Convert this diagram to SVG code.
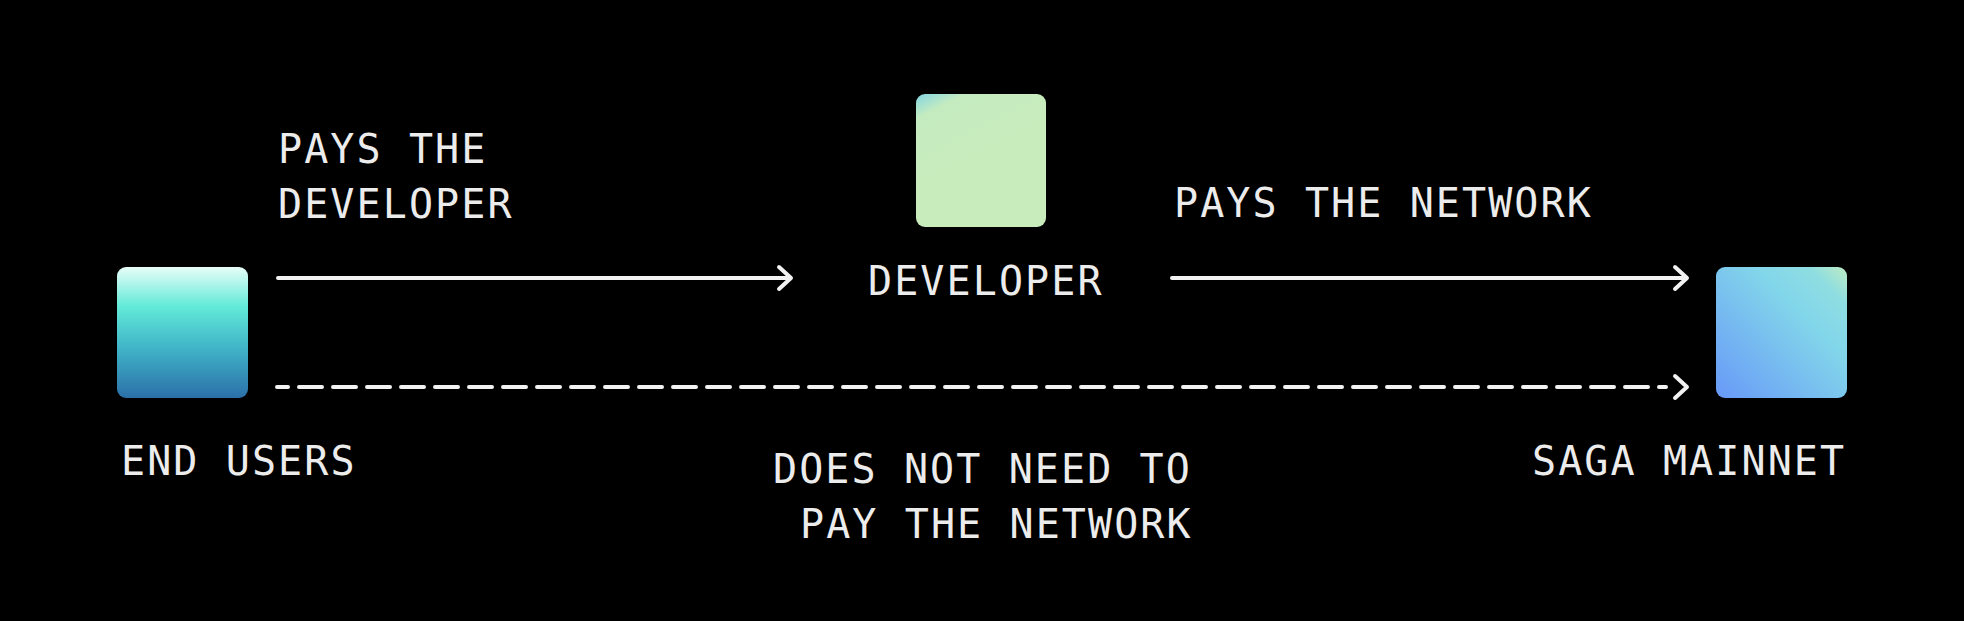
<svg xmlns="http://www.w3.org/2000/svg" width="1964" height="621" viewBox="0 0 1964 621">
  <style>
    .lbl { font-family: "DejaVu Sans Mono", "Liberation Mono", monospace; font-size: 40px; letter-spacing: 2.1px; fill: #ececec; }
    .conn { stroke: #f2f2f2; stroke-width: 4; fill: none; stroke-linecap: round; stroke-linejoin: round; }
  </style>
  <defs>
    <linearGradient id="gUsers" x1="0" y1="0" x2="0" y2="1">
      <stop offset="0" stop-color="#e8fdf8"/>
      <stop offset="0.3" stop-color="#62ead8"/>
      <stop offset="0.62" stop-color="#40b4c8"/>
      <stop offset="1" stop-color="#2b70a9"/>
    </linearGradient>
    <linearGradient id="gDev" x1="0" y1="0" x2="0.3" y2="0.6">
      <stop offset="0" stop-color="#82d6e4"/>
      <stop offset="0.25" stop-color="#c4ebc0"/>
      <stop offset="1" stop-color="#c9ecbc"/>
    </linearGradient>
    <linearGradient id="gSaga" x1="0" y1="1" x2="1" y2="0">
      <stop offset="0" stop-color="#6899f8"/>
      <stop offset="0.65" stop-color="#82d6ea"/>
      <stop offset="0.85" stop-color="#8edde2"/>
      <stop offset="1" stop-color="#bdebc2"/>
    </linearGradient>
  </defs>
  <rect width="1964" height="621" fill="#000000"/>

  <g id="connectors">
    <g id="edge-users-developer">
      <line class="conn" x1="278" y1="278" x2="790" y2="278"/>
      <polyline class="conn" points="779,267 791,278 779,289"/>
      <text class="lbl" x="278" y="163">PAYS THE</text>
      <text class="lbl" x="278" y="218">DEVELOPER</text>
    </g>
    <g id="edge-developer-saga">
      <line class="conn" x1="1172" y1="278" x2="1686" y2="278"/>
      <polyline class="conn" points="1675,267 1687,278 1675,289"/>
      <text class="lbl" x="1174" y="217">PAYS THE NETWORK</text>
    </g>
    <g id="edge-users-saga">
      <line class="conn" x1="277" y1="387" x2="1666" y2="387" stroke-dasharray="23 11" stroke-dashoffset="12" stroke-linecap="butt"/>
      <polyline class="conn" points="1675,376 1687,387 1675,398"/>
      <text class="lbl" x="773" y="483">DOES NOT NEED TO</text>
      <text class="lbl" x="800" y="538">PAY THE NETWORK</text>
    </g>
  </g>

  <g id="node-end-users">
    <rect x="117" y="267" width="131" height="131" rx="9" fill="url(#gUsers)"/>
    <text class="lbl" x="121" y="475">END USERS</text>
  </g>
  <g id="node-developer">
    <rect x="916" y="94" width="130" height="133" rx="9" fill="url(#gDev)"/>
    <text class="lbl" x="868" y="295">DEVELOPER</text>
  </g>
  <g id="node-saga-mainnet">
    <rect x="1716" y="267" width="131" height="131" rx="9" fill="url(#gSaga)"/>
    <text class="lbl" x="1532" y="475">SAGA MAINNET</text>
  </g>
</svg>
